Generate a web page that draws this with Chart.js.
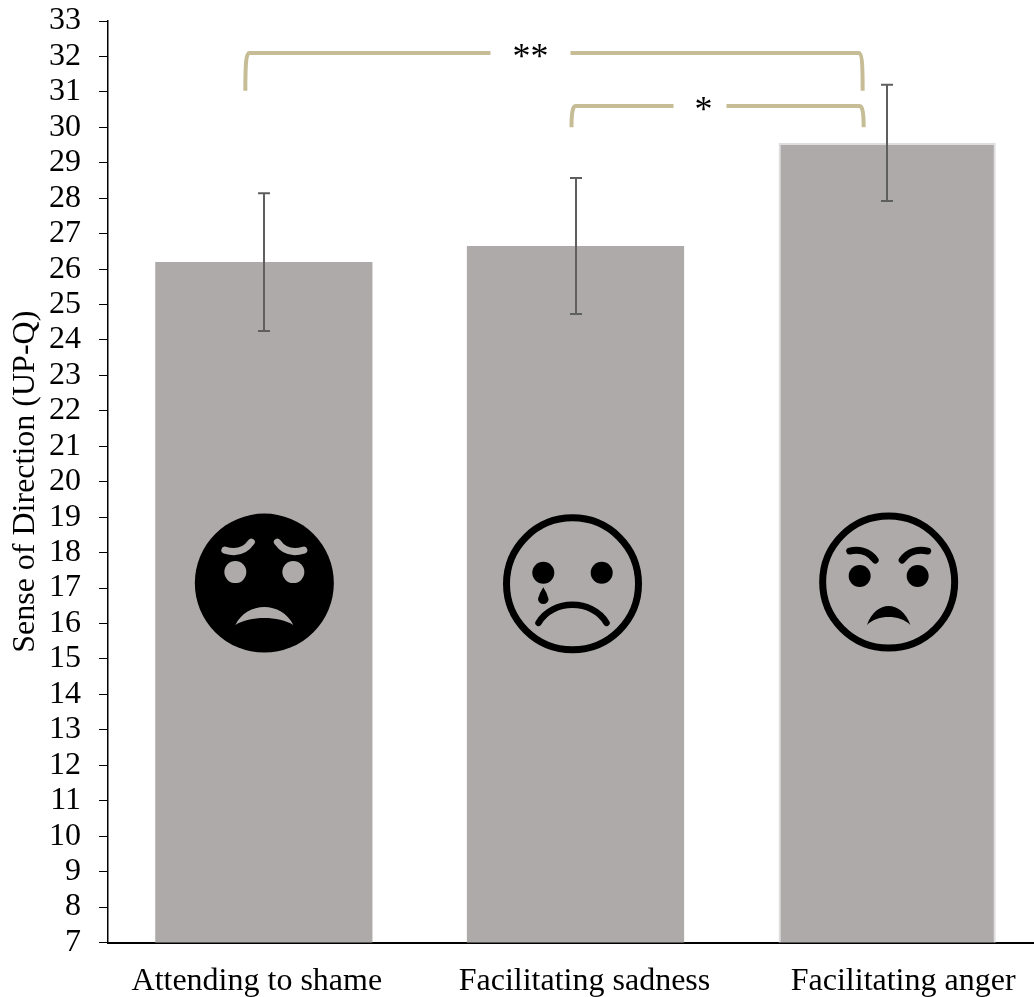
<!DOCTYPE html>
<html lang="en">
<head>
<meta charset="UTF-8">
<title>Sense of Direction</title>
<script src="https://cdn.jsdelivr.net/npm/chart.js"></script>
<style>
  html, body { margin: 0; padding: 0; background: #fff; overflow: hidden; width: 1034px; height: 997px; }
  canvas { display: block; }
</style>
</head>
<body>
<canvas id="chart" width="1043" height="997"></canvas>
<script>
const categories = ['Attending to shame', 'Facilitating sadness', 'Facilitating anger'];
const means = [26.2, 26.65, 29.56];
const errLow = [24.25, 24.73, 27.92];
const errHigh = [28.14, 28.57, 31.2];
const yMin = 7;
const yMax = 33;
const yTitle = 'Sense of Direction (UP-Q)';
const serif = '"Liberation Serif", "Times New Roman", serif';

// error whiskers, read through the scales
const whiskers = {
  id: 'whiskers',
  afterDatasetsDraw(chart) {
    const { ctx, scales: { x, y } } = chart;
    ctx.save();
    ctx.strokeStyle = '#5f5f5f';
    ctx.lineWidth = 2;
    means.forEach((m, i) => {
      const px = Math.round(x.getPixelForValue(i));
      const top = y.getPixelForValue(errHigh[i]);
      const bot = y.getPixelForValue(errLow[i]);
      ctx.beginPath();
      ctx.moveTo(px, top); ctx.lineTo(px, bot);
      ctx.moveTo(px - 6, top); ctx.lineTo(px + 6, top);
      ctx.moveTo(px - 6, bot); ctx.lineTo(px + 6, bot);
      ctx.stroke();
    });
    ctx.restore();
  }
};

// significance brackets
function bracket(ctx, x1, x2, yTop, yBot, gap1, gap2) {
  ctx.beginPath();
  ctx.moveTo(x1, yBot);
  ctx.bezierCurveTo(x1, yTop + 8, x1 + 1, yTop, x1 + 4, yTop);
  ctx.lineTo(gap1, yTop);
  ctx.moveTo(gap2, yTop);
  ctx.lineTo(x2 - 4, yTop);
  ctx.bezierCurveTo(x2 - 1, yTop, x2, yTop + 8, x2, yBot);
  ctx.stroke();
}

const brackets = {
  id: 'brackets',
  afterDatasetsDraw(chart) {
    const { ctx, scales: { x, y } } = chart;
    const c0 = x.getPixelForValue(0), c1 = x.getPixelForValue(1), c2 = x.getPixelForValue(2);
    ctx.save();
    ctx.strokeStyle = '#c6bd96';
    ctx.lineWidth = 4;
    bracket(ctx, c0 - 18.5, c2 - 24.5, y.getPixelForValue(32.1), y.getPixelForValue(31.03), c1 - 85, c1 - 5);
    bracket(ctx, c1 - 4, c2 - 23.5, y.getPixelForValue(30.6), y.getPixelForValue(30.0), c1 + 98, c1 + 151);
    ctx.fillStyle = '#000';
    ctx.font = '36px ' + serif;
    ctx.textAlign = 'center';
    ctx.textBaseline = 'alphabetic';
    ctx.fillText('**', c1 - 45, y.getPixelForValue(32.1) + 15);
    ctx.fillText('*', c1 + 128, y.getPixelForValue(30.6) + 15);
    ctx.restore();
  }
};

function disc(ctx, x, y, r) {
  ctx.beginPath();
  ctx.arc(x, y, r, 0, Math.PI * 2);
  ctx.fill();
}

// crescent mouth, filled: outer and inner arcs meet at the two tips
function crescent(ctx, cx, cy, w, yEnd, yOuter, yInner) {
  const hOut = (yEnd - yOuter) * 4 / 3;
  const hIn = (yEnd - yInner) * 4 / 3;
  ctx.beginPath();
  ctx.moveTo(cx - w, cy + yEnd);
  ctx.bezierCurveTo(cx - w * 0.6, cy + yEnd - hOut, cx + w * 0.6, cy + yEnd - hOut, cx + w, cy + yEnd);
  ctx.bezierCurveTo(cx + w * 0.5, cy + yEnd - hIn, cx - w * 0.5, cy + yEnd - hIn, cx - w, cy + yEnd);
  ctx.fill();
}

function shameFace(ctx, cx, cy, skin) {
  ctx.fillStyle = '#000';
  disc(ctx, cx, cy, 69.5);
  ctx.fillStyle = skin;
  ctx.strokeStyle = skin;
  disc(ctx, cx - 29, cy - 11, 11);
  disc(ctx, cx + 29, cy - 11, 11);
  crescent(ctx, cx, cy, 29, 42, 24, 35);
  ctx.lineWidth = 7;
  ctx.lineCap = 'round';
  [-1, 1].forEach(s => {
    ctx.beginPath();
    ctx.moveTo(cx + s * 39.5, cy - 33);
    ctx.bezierCurveTo(cx + s * 30, cy - 30, cx + s * 20, cy - 31, cx + s * 13, cy - 41);
    ctx.stroke();
  });
}

function sadFace(ctx, cx, cy) {
  ctx.strokeStyle = '#000';
  ctx.fillStyle = '#000';
  ctx.lineWidth = 7;
  ctx.lineCap = 'round';
  ctx.beginPath();
  ctx.arc(cx, cy, 66, 0, Math.PI * 2);
  ctx.stroke();
  disc(ctx, cx - 29.2, cy - 11, 11);
  disc(ctx, cx + 29.2, cy - 11, 11);
  // tear
  ctx.beginPath();
  ctx.moveTo(cx - 29.2, cy + 3.5);
  ctx.quadraticCurveTo(cx - 25.5, cy + 9, cx - 24, cy + 15);
  ctx.arc(cx - 29.2, cy + 15, 5.3, 0, Math.PI);
  ctx.quadraticCurveTo(cx - 33, cy + 9, cx - 29.2, cy + 3.5);
  ctx.fill();
  // mouth
  ctx.lineWidth = 6.5;
  ctx.beginPath();
  ctx.moveTo(cx - 34, cy + 39);
  ctx.bezierCurveTo(cx - 20, cy + 15, cx + 20, cy + 15, cx + 34, cy + 39);
  ctx.stroke();
}

function angryFace(ctx, cx, cy) {
  ctx.strokeStyle = '#000';
  ctx.fillStyle = '#000';
  ctx.lineWidth = 7;
  ctx.lineCap = 'round';
  ctx.beginPath();
  ctx.arc(cx, cy, 66, 0, Math.PI * 2);
  ctx.stroke();
  disc(ctx, cx - 29, cy - 6, 11);
  disc(ctx, cx + 29, cy - 6, 11);
  ctx.lineWidth = 7;
  [-1, 1].forEach(s => {
    ctx.beginPath();
    ctx.moveTo(cx + s * 39, cy - 31);
    ctx.bezierCurveTo(cx + s * 30, cy - 33, cx + s * 20, cy - 31, cx + s * 13.5, cy - 22);
    ctx.stroke();
  });
  crescent(ctx, cx, cy, 21.7, 43, 24, 35);
}

const faces = {
  id: 'faces',
  afterDatasetsDraw(chart) {
    const { ctx, scales: { x, y } } = chart;
    ctx.save();
    shameFace(ctx, x.getPixelForValue(0) + 0.5, y.getPixelForValue(17.14), '#aeaaaa');
    sadFace(ctx, x.getPixelForValue(1) - 3, y.getPixelForValue(17.12));
    angryFace(ctx, x.getPixelForValue(2) + 1.5, y.getPixelForValue(17.17));
    ctx.restore();
  }
};

// the category labels sit off-centre under the bars in the original
const labelShift = [-7, 9, 16];
const catLabels = {
  id: 'catLabels',
  afterDraw(chart) {
    const { ctx, scales: { x } } = chart;
    ctx.save();
    ctx.fillStyle = '#000';
    ctx.font = '32px ' + serif;
    ctx.textAlign = 'center';
    ctx.textBaseline = 'alphabetic';
    categories.forEach((c, i) => ctx.fillText(c, x.getPixelForValue(i) + labelShift[i], 990));
    ctx.restore();
  }
};

new Chart(document.getElementById('chart'), {
  type: 'bar',
  data: {
    labels: categories,
    datasets: [{
      label: yTitle,
      data: means,
      backgroundColor: '#aeaaaa',
      borderColor: ['#aeaaaa', '#aeaaaa', '#dedede'],
      borderWidth: [0, 0, 2],
      borderSkipped: 'bottom',
      barPercentage: 0.697,
      categoryPercentage: 1
    }]
  },
  plugins: [whiskers, faces, brackets, catLabels],
  options: {
    responsive: false,
    animation: false,
    layout: { padding: { top: 21, right: 0, bottom: 0, left: 0 } },
    plugins: { legend: { display: false }, tooltip: { enabled: false } },
    scales: {
      x: {
        grid: { display: true, drawOnChartArea: false, drawTicks: false },
        border: { color: '#000', width: 2 },
        ticks: { display: false },
        afterFit(s) { s.height = 54.5; }
      },
      y: {
        min: yMin,
        max: yMax,
        grid: { drawOnChartArea: false, drawTicks: true, tickLength: 9, color: '#000', lineWidth: 1 },
        border: { color: '#000', width: 1.5 },
        ticks: {
          stepSize: 1,
          autoSkip: false,
          padding: 18,
          color: '#000',
          font: { family: serif, size: 32 }
        },
        title: {
          display: true,
          text: yTitle,
          color: '#000',
          font: { family: serif, size: 32 },
          padding: { top: 6, bottom: 0 }
        },
        afterFit(s) { s.width = 108; s.paddingTop = 0; s.paddingBottom = 0; }
      }
    }
  }
});
</script>
</body>
</html>
